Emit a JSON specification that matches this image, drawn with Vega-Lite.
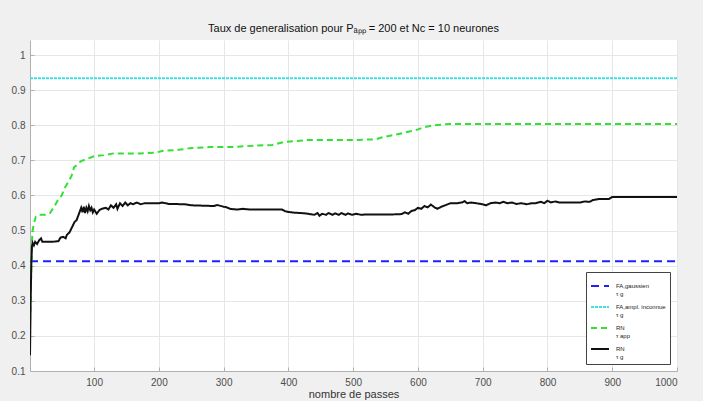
{
  "$schema": "https://vega.github.io/schema/vega-lite/v6.json",
  "width": 647,
  "height": 331,
  "autosize": {"type": "none"},
  "padding": {"left": 30, "top": 40, "right": 26, "bottom": 30},
  "background": "#f0f0f0",
  "title": {"text": "Taux de generalisation pour Pₐₚₚ = 200 et Nc = 10 neurones", "fontSize": 11, "fontWeight": "normal", "font": "Liberation Sans", "color": "#111111", "offset": 6, "anchor": "middle"},
  "config": {
    "view": {"fill": "white", "stroke": null},
    "font": "Liberation Sans",
    "axis": {
      "gridColor": "#e6e6e6",
      "domainColor": "#b0b0b0",
      "tickColor": "#b0b0b0",
      "tickSize": -4,
      "labelFontSize": 10,
      "labelColor": "#4d4d4d",
      "labelFont": "Liberation Sans",
      "titleFont": "Liberation Sans",
      "titleFontSize": 11,
      "titleFontWeight": "normal",
      "titleColor": "#333333"
    },
    "legend": {
      "fillColor": "white",
      "strokeColor": "#444444",
      "padding": 4,
      "labelFontSize": 6,
      "labelFont": "Liberation Sans",
      "labelColor": "#222222",
      "symbolType": "M-1,0L1,0",
      "symbolSize": 324,
      "symbolStrokeWidth": 2,
      "rowPadding": 0,
      "labelOffset": 6
    }
  },
  "datasets": {
    "series": [
      {"s": "a", "x": 1, "v": 0.413}, {"s": "a", "x": 1000, "v": 0.413},
      {"s": "b", "x": 1, "v": 0.934}, {"s": "b", "x": 1000, "v": 0.934},

      {"s": "c", "x": 1, "v": 0.24}, {"s": "c", "x": 2, "v": 0.30}, {"s": "c", "x": 3, "v": 0.40}, {"s": "c", "x": 4, "v": 0.47},
      {"s": "c", "x": 5, "v": 0.50}, {"s": "c", "x": 7, "v": 0.52}, {"s": "c", "x": 10, "v": 0.54}, {"s": "c", "x": 15, "v": 0.545},
      {"s": "c", "x": 25, "v": 0.545}, {"s": "c", "x": 32, "v": 0.55}, {"s": "c", "x": 38, "v": 0.567}, {"s": "c", "x": 45, "v": 0.59},
      {"s": "c", "x": 50, "v": 0.60}, {"s": "c", "x": 54, "v": 0.62}, {"s": "c", "x": 60, "v": 0.638}, {"s": "c", "x": 65, "v": 0.655},
      {"s": "c", "x": 69, "v": 0.68}, {"s": "c", "x": 75, "v": 0.69}, {"s": "c", "x": 80, "v": 0.698}, {"s": "c", "x": 90, "v": 0.705},
      {"s": "c", "x": 100, "v": 0.712}, {"s": "c", "x": 115, "v": 0.715}, {"s": "c", "x": 130, "v": 0.72}, {"s": "c", "x": 150, "v": 0.72},
      {"s": "c", "x": 170, "v": 0.72}, {"s": "c", "x": 195, "v": 0.722}, {"s": "c", "x": 205, "v": 0.727}, {"s": "c", "x": 230, "v": 0.73},
      {"s": "c", "x": 250, "v": 0.735}, {"s": "c", "x": 280, "v": 0.738}, {"s": "c", "x": 310, "v": 0.738}, {"s": "c", "x": 350, "v": 0.742},
      {"s": "c", "x": 375, "v": 0.744}, {"s": "c", "x": 392, "v": 0.752}, {"s": "c", "x": 410, "v": 0.755}, {"s": "c", "x": 430, "v": 0.758},
      {"s": "c", "x": 500, "v": 0.758}, {"s": "c", "x": 535, "v": 0.76}, {"s": "c", "x": 545, "v": 0.766}, {"s": "c", "x": 567, "v": 0.774},
      {"s": "c", "x": 598, "v": 0.787}, {"s": "c", "x": 610, "v": 0.795}, {"s": "c", "x": 625, "v": 0.80}, {"s": "c", "x": 650, "v": 0.804},
      {"s": "c", "x": 1000, "v": 0.804},

      {"s": "d", "x": 1, "v": 0.145}, {"s": "d", "x": 2, "v": 0.30}, {"s": "d", "x": 3, "v": 0.40}, {"s": "d", "x": 4, "v": 0.455},
      {"s": "d", "x": 5, "v": 0.465}, {"s": "d", "x": 7, "v": 0.458}, {"s": "d", "x": 9, "v": 0.468}, {"s": "d", "x": 12, "v": 0.462},
      {"s": "d", "x": 15, "v": 0.472}, {"s": "d", "x": 18, "v": 0.478}, {"s": "d", "x": 20, "v": 0.468}, {"s": "d", "x": 25, "v": 0.468},
      {"s": "d", "x": 35, "v": 0.468}, {"s": "d", "x": 45, "v": 0.47}, {"s": "d", "x": 48, "v": 0.48}, {"s": "d", "x": 52, "v": 0.482},
      {"s": "d", "x": 56, "v": 0.478}, {"s": "d", "x": 58, "v": 0.488}, {"s": "d", "x": 62, "v": 0.495}, {"s": "d", "x": 66, "v": 0.51},
      {"s": "d", "x": 70, "v": 0.525}, {"s": "d", "x": 73, "v": 0.53}, {"s": "d", "x": 76, "v": 0.545}, {"s": "d", "x": 78, "v": 0.555},
      {"s": "d", "x": 80, "v": 0.565}, {"s": "d", "x": 82, "v": 0.552}, {"s": "d", "x": 84, "v": 0.568}, {"s": "d", "x": 86, "v": 0.55},
      {"s": "d", "x": 88, "v": 0.565}, {"s": "d", "x": 90, "v": 0.555}, {"s": "d", "x": 92, "v": 0.57}, {"s": "d", "x": 94, "v": 0.558},
      {"s": "d", "x": 96, "v": 0.565}, {"s": "d", "x": 98, "v": 0.552}, {"s": "d", "x": 100, "v": 0.56}, {"s": "d", "x": 104, "v": 0.548},
      {"s": "d", "x": 108, "v": 0.558}, {"s": "d", "x": 112, "v": 0.562}, {"s": "d", "x": 118, "v": 0.565}, {"s": "d", "x": 122, "v": 0.56},
      {"s": "d", "x": 126, "v": 0.572}, {"s": "d", "x": 130, "v": 0.565}, {"s": "d", "x": 134, "v": 0.575}, {"s": "d", "x": 136, "v": 0.562},
      {"s": "d", "x": 140, "v": 0.578}, {"s": "d", "x": 144, "v": 0.57}, {"s": "d", "x": 148, "v": 0.58}, {"s": "d", "x": 152, "v": 0.572},
      {"s": "d", "x": 156, "v": 0.578}, {"s": "d", "x": 160, "v": 0.575}, {"s": "d", "x": 166, "v": 0.58}, {"s": "d", "x": 172, "v": 0.575},
      {"s": "d", "x": 178, "v": 0.578}, {"s": "d", "x": 190, "v": 0.578}, {"s": "d", "x": 200, "v": 0.578}, {"s": "d", "x": 205, "v": 0.58},
      {"s": "d", "x": 215, "v": 0.576}, {"s": "d", "x": 240, "v": 0.575}, {"s": "d", "x": 250, "v": 0.572}, {"s": "d", "x": 285, "v": 0.57},
      {"s": "d", "x": 290, "v": 0.573}, {"s": "d", "x": 300, "v": 0.568}, {"s": "d", "x": 305, "v": 0.566}, {"s": "d", "x": 310, "v": 0.562},
      {"s": "d", "x": 320, "v": 0.56}, {"s": "d", "x": 330, "v": 0.562}, {"s": "d", "x": 340, "v": 0.56}, {"s": "d", "x": 390, "v": 0.56},
      {"s": "d", "x": 395, "v": 0.555}, {"s": "d", "x": 400, "v": 0.553}, {"s": "d", "x": 410, "v": 0.551}, {"s": "d", "x": 420, "v": 0.55},
      {"s": "d", "x": 430, "v": 0.548}, {"s": "d", "x": 440, "v": 0.545}, {"s": "d", "x": 445, "v": 0.55}, {"s": "d", "x": 448, "v": 0.542},
      {"s": "d", "x": 452, "v": 0.548}, {"s": "d", "x": 458, "v": 0.545}, {"s": "d", "x": 462, "v": 0.55}, {"s": "d", "x": 468, "v": 0.545},
      {"s": "d", "x": 472, "v": 0.549}, {"s": "d", "x": 478, "v": 0.545}, {"s": "d", "x": 482, "v": 0.55}, {"s": "d", "x": 488, "v": 0.545},
      {"s": "d", "x": 492, "v": 0.549}, {"s": "d", "x": 498, "v": 0.545}, {"s": "d", "x": 505, "v": 0.548}, {"s": "d", "x": 512, "v": 0.545},
      {"s": "d", "x": 520, "v": 0.546}, {"s": "d", "x": 530, "v": 0.546}, {"s": "d", "x": 560, "v": 0.546}, {"s": "d", "x": 575, "v": 0.547},
      {"s": "d", "x": 580, "v": 0.552}, {"s": "d", "x": 585, "v": 0.548}, {"s": "d", "x": 590, "v": 0.556}, {"s": "d", "x": 595, "v": 0.558},
      {"s": "d", "x": 600, "v": 0.565}, {"s": "d", "x": 605, "v": 0.562}, {"s": "d", "x": 610, "v": 0.57}, {"s": "d", "x": 615, "v": 0.566},
      {"s": "d", "x": 620, "v": 0.574}, {"s": "d", "x": 626, "v": 0.566}, {"s": "d", "x": 630, "v": 0.562}, {"s": "d", "x": 636, "v": 0.568},
      {"s": "d", "x": 642, "v": 0.572}, {"s": "d", "x": 650, "v": 0.578}, {"s": "d", "x": 660, "v": 0.578}, {"s": "d", "x": 668, "v": 0.58},
      {"s": "d", "x": 672, "v": 0.584}, {"s": "d", "x": 676, "v": 0.578}, {"s": "d", "x": 682, "v": 0.58}, {"s": "d", "x": 690, "v": 0.578},
      {"s": "d", "x": 700, "v": 0.575}, {"s": "d", "x": 705, "v": 0.572}, {"s": "d", "x": 712, "v": 0.578}, {"s": "d", "x": 720, "v": 0.58},
      {"s": "d", "x": 726, "v": 0.578}, {"s": "d", "x": 732, "v": 0.582}, {"s": "d", "x": 738, "v": 0.578}, {"s": "d", "x": 745, "v": 0.58},
      {"s": "d", "x": 752, "v": 0.576}, {"s": "d", "x": 760, "v": 0.578}, {"s": "d", "x": 768, "v": 0.575}, {"s": "d", "x": 775, "v": 0.578},
      {"s": "d", "x": 782, "v": 0.578}, {"s": "d", "x": 790, "v": 0.582}, {"s": "d", "x": 795, "v": 0.578}, {"s": "d", "x": 800, "v": 0.585},
      {"s": "d", "x": 805, "v": 0.58}, {"s": "d", "x": 812, "v": 0.583}, {"s": "d", "x": 818, "v": 0.58}, {"s": "d", "x": 830, "v": 0.58},
      {"s": "d", "x": 850, "v": 0.58}, {"s": "d", "x": 858, "v": 0.583}, {"s": "d", "x": 865, "v": 0.582}, {"s": "d", "x": 870, "v": 0.587},
      {"s": "d", "x": 880, "v": 0.59}, {"s": "d", "x": 895, "v": 0.59}, {"s": "d", "x": 900, "v": 0.596}, {"s": "d", "x": 1000, "v": 0.596}
    ]
  },
  "data": {"name": "series"},
  "mark": {"type": "line", "strokeWidth": 2, "clip": true},
  "encoding": {
    "x": {
      "field": "x", "type": "quantitative",
      "scale": {"domain": [1, 1000], "nice": false, "zero": false},
      "axis": {"values": [100, 200, 300, 400, 500, 600, 700, 800, 900, 1000], "format": "d", "title": "nombre de passes", "labelPadding": 10, "titlePadding": 1}
    },
    "y": {
      "field": "v", "type": "quantitative",
      "scale": {"domain": [0.1, 1.043], "nice": false, "zero": false},
      "axis": {"values": [0.1, 0.2, 0.3, 0.4, 0.5, 0.6, 0.7, 0.8, 0.9, 1], "format": "~g", "title": null, "labelPadding": 9}
    },
    "color": {
      "field": "s", "type": "nominal",
      "scale": {"domain": ["a", "b", "c", "d"], "range": ["#1f1fff", "#40e0e0", "#33e033", "#111111"]},
      "legend": {
        "title": null, "orient": "bottom-right", "offset": 7,
        "labelExpr": "datum.value == 'a' ? ['  FA,gaussien', 'τ g'] : datum.value == 'b' ? ['  FA,ampl. inconnue', 'τ g'] : datum.value == 'c' ? ['  RN', 'τ app'] : ['  RN', 'τ g']"
      }
    },
    "strokeDash": {
      "field": "s", "type": "nominal",
      "scale": {"domain": ["a", "b", "c", "d"], "range": [[8, 5], [3, 1], [6, 4], [1, 0]]}
    }
  }
}
